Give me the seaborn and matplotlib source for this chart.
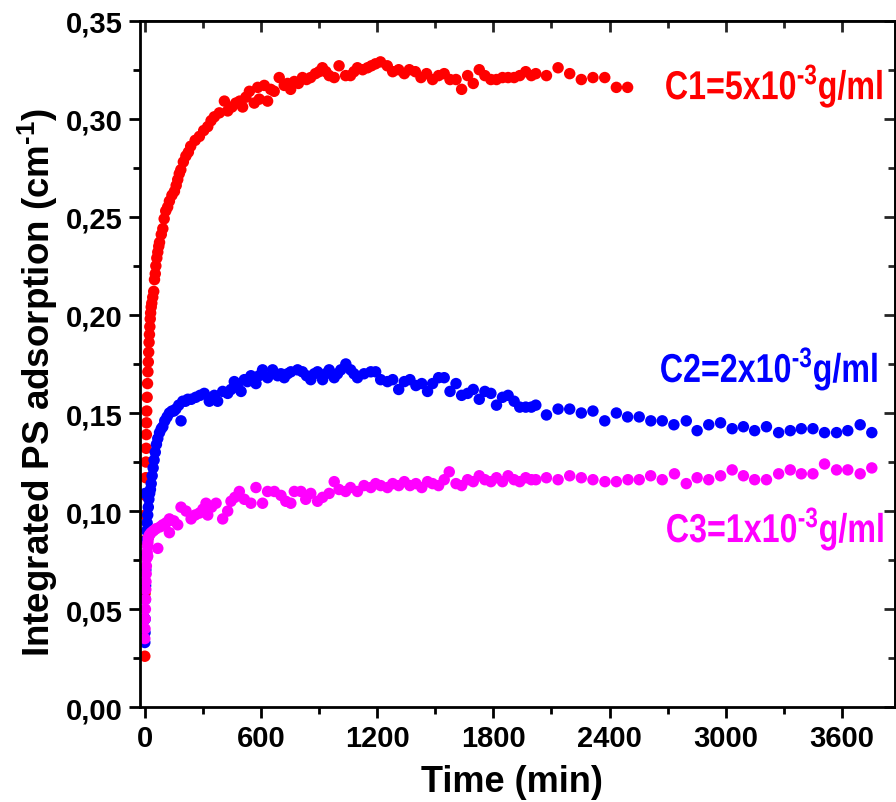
import numpy as np
import pandas as pd
import seaborn as sns
from matplotlib import pyplot as plt
from matplotlib.ticker import FuncFormatter, MultipleLocator
from matplotlib.textpath import TextPath
from matplotlib.patches import PathPatch
from matplotlib.font_manager import FontProperties
from matplotlib.transforms import Affine2D

# C1 = 5x10^-3 g/ml
c1_time = [0, 1, 2, 3, 4, 5, 6, 7, 8, 9, 10, 12, 14, 16, 18, 20, 22, 24, 26, 28, 30, 33,
           36, 41, 46, 50, 54, 57, 62, 67, 72, 76, 85, 93, 100, 108, 118, 127, 140, 153,
           162, 170, 178, 186, 199, 212, 225, 237, 260, 282, 304, 325, 342, 359, 385, 411,
           428, 450, 470, 490, 505, 522, 540, 565, 583, 591, 617, 634, 650, 668, 694, 720,
           737, 753, 772, 793, 814, 835, 856, 881, 900, 917, 935, 952, 978, 1003, 1037,
           1062, 1080, 1098, 1125, 1150, 1170, 1191, 1217, 1252,
           1280, 1311, 1340, 1366, 1397, 1426, 1455, 1486, 1517, 1546, 1576, 1607, 1636,
           1667, 1696, 1727, 1756, 1787, 1816, 1847, 1876, 1907, 1936, 1967, 1996, 2019,
           2074, 2134, 2194, 2254, 2314, 2375, 2435, 2493]
c1_abs = [0.026, 0.058, 0.085, 0.098, 0.108, 0.117, 0.125, 0.132, 0.139, 0.145, 0.151,
          0.158, 0.165, 0.171, 0.176, 0.181, 0.186, 0.190, 0.194, 0.198, 0.201, 0.204,
          0.206, 0.209, 0.212, 0.218, 0.221, 0.225, 0.229, 0.232, 0.235, 0.237, 0.241,
          0.244, 0.249, 0.253, 0.255, 0.258, 0.261, 0.263, 0.266, 0.269, 0.272, 0.274,
          0.278, 0.281, 0.283, 0.286, 0.289, 0.291, 0.294, 0.296, 0.299, 0.301, 0.303,
          0.309, 0.304, 0.306, 0.308, 0.309, 0.306, 0.311, 0.314, 0.308, 0.316, 0.310,
          0.317, 0.309, 0.315, 0.314, 0.321, 0.317, 0.318, 0.315, 0.319, 0.318, 0.321,
          0.320, 0.321, 0.323, 0.324, 0.326, 0.324, 0.322, 0.321, 0.327, 0.322, 0.322,
          0.324, 0.326, 0.325, 0.326, 0.327, 0.328, 0.329, 0.327,
          0.324, 0.325, 0.323, 0.325, 0.324, 0.321, 0.323, 0.320, 0.322, 0.323, 0.320,
          0.320, 0.315, 0.322, 0.318, 0.325, 0.322, 0.320, 0.320, 0.321, 0.321, 0.321,
          0.322, 0.324, 0.322, 0.323, 0.322, 0.326, 0.323, 0.320, 0.321, 0.321, 0.316,
          0.316]

# C2 = 2x10^-3 g/ml
c2_time = [0, 1, 2, 2, 3, 4, 5, 6, 8, 10, 12, 15, 18, 21, 25, 29, 33, 38, 43, 48, 54, 60,
           67, 76, 85, 93, 103, 115, 127, 140, 150, 160, 175, 187, 196, 210, 222, 240, 263,
           285, 307, 333, 359, 376, 402, 428, 445, 462, 480, 497, 514, 530, 548, 574, 590,
           608, 634, 660, 686, 703, 720, 737, 754, 789, 814, 835, 857, 875, 892, 918, 935,
           952, 978, 995, 1012, 1038, 1063, 1080, 1098, 1132, 1167, 1192, 1218, 1253,
           1280, 1311, 1340, 1369, 1400, 1430, 1460, 1486, 1517, 1546, 1576, 1607, 1636,
           1667, 1696, 1727, 1756, 1787, 1816, 1847, 1876, 1907, 1936, 1967, 1996, 2019,
           2074, 2134, 2194, 2254, 2314, 2375, 2435, 2493, 2553, 2613, 2672, 2732, 2796,
           2852, 2912, 2973, 3033, 3091, 3149, 3210, 3273, 3333, 3390, 3450, 3510, 3572,
           3630, 3694, 3754]
c2_abs = [0.033, 0.038, 0.045, 0.109, 0.055, 0.062, 0.070, 0.078, 0.085, 0.090, 0.094,
          0.098, 0.102, 0.106, 0.109, 0.111, 0.114, 0.118, 0.122, 0.126, 0.130, 0.134,
          0.137, 0.140, 0.142, 0.143, 0.146, 0.148, 0.150, 0.151, 0.151, 0.152, 0.154,
          0.146, 0.156, 0.156, 0.157, 0.157, 0.158, 0.159, 0.160, 0.156, 0.159, 0.156,
          0.161, 0.160, 0.162, 0.166, 0.163, 0.161, 0.167, 0.166, 0.169, 0.165, 0.169,
          0.172, 0.168, 0.172, 0.169, 0.170, 0.168, 0.170, 0.171, 0.172, 0.171, 0.169,
          0.167, 0.170, 0.171, 0.167, 0.170, 0.172, 0.168, 0.170, 0.172, 0.175, 0.172,
          0.170, 0.168, 0.170, 0.171, 0.171, 0.167, 0.166,
          0.167, 0.162, 0.166, 0.167, 0.164, 0.165, 0.161, 0.165, 0.168, 0.168, 0.161,
          0.165, 0.159, 0.160, 0.162, 0.157, 0.161, 0.160, 0.154, 0.158, 0.159, 0.156,
          0.153, 0.153, 0.153, 0.154,
          0.149, 0.152, 0.152, 0.150, 0.151, 0.146, 0.150, 0.148, 0.148, 0.146, 0.146,
          0.144, 0.146, 0.141, 0.144, 0.145, 0.142, 0.143, 0.141, 0.143, 0.140, 0.141,
          0.142, 0.142, 0.140, 0.140, 0.141, 0.144, 0.140]

# C3 = 1x10^-3 g/ml
c3_time = [0, 1, 2, 3, 4, 5, 6, 7, 8, 10, 12, 14, 15, 16, 18, 20, 25, 33, 45, 58, 67, 80,
           93, 110, 127, 127, 150, 170, 187, 213, 239, 260, 282, 300, 316, 325, 345, 368,
           402, 428, 445, 465, 488, 514, 548, 574, 608, 634, 669, 703, 728, 754, 772, 806,
           831, 857, 892, 918, 952, 978, 1003, 1037, 1062, 1098, 1132, 1167, 1192, 1218,
           1253, 1280, 1311, 1340, 1369, 1400, 1430, 1460, 1486, 1517, 1546, 1572, 1607,
           1636, 1667, 1696, 1727, 1756, 1787, 1816, 1847, 1876, 1907, 1936, 1967, 1996,
           2019, 2074, 2134, 2194, 2254, 2314, 2376, 2435, 2495, 2553, 2612, 2672, 2735,
           2796, 2852, 2912, 2973, 3033, 3091, 3149, 3210, 3273, 3333, 3390, 3450, 3510,
           3572, 3630, 3694, 3754]
c3_abs = [0.035, 0.040, 0.045, 0.050, 0.055, 0.060, 0.064, 0.068, 0.072, 0.076, 0.079,
          0.082, 0.077, 0.084, 0.086, 0.087, 0.088, 0.089, 0.090, 0.091, 0.081, 0.092,
          0.093, 0.094, 0.096, 0.089, 0.095, 0.093, 0.102, 0.100, 0.096, 0.098, 0.099,
          0.101, 0.104, 0.098, 0.102, 0.104, 0.096, 0.100, 0.105, 0.107, 0.110, 0.106,
          0.104, 0.112, 0.104, 0.110, 0.110, 0.108, 0.105, 0.104, 0.110, 0.110, 0.106,
          0.109, 0.105, 0.107, 0.109, 0.115, 0.111, 0.110, 0.112, 0.110, 0.113, 0.112,
          0.114, 0.113, 0.112, 0.114, 0.113, 0.115, 0.113, 0.114, 0.112, 0.115, 0.114,
          0.113, 0.116, 0.120, 0.114, 0.113, 0.116, 0.115, 0.118, 0.116, 0.115, 0.117,
          0.115, 0.118, 0.116, 0.115, 0.117, 0.116, 0.116, 0.117, 0.116, 0.118, 0.117,
          0.116, 0.115, 0.115, 0.116, 0.116, 0.118, 0.116, 0.119, 0.114, 0.117, 0.116,
          0.118, 0.121, 0.118, 0.116, 0.116, 0.119, 0.121, 0.119, 0.119, 0.124, 0.121,
          0.121, 0.119, 0.122]

series_names = ['C1', 'C2', 'C3']
series_labels = [r'C1=5x10$^{\text{-}3}$g/ml', r'C2=2x10$^{\text{-}3}$g/ml',
                 r'C3=1x10$^{\text{-}3}$g/ml']
series_colors = ['#ff0000', '#0000ff', '#ff00ff']
# right end and baseline of each series label, in data units
label_x = [3805, 3779, 3810]
label_y = [0.310, 0.1658, 0.0842]

df = pd.concat([
    pd.DataFrame({'time': c1_time, 'absorption': c1_abs, 'series': 'C1'}),
    pd.DataFrame({'time': c2_time, 'absorption': c2_abs, 'series': 'C2'}),
    pd.DataFrame({'time': c3_time, 'absorption': c3_abs, 'series': 'C3'}),
], ignore_index=True)

sns.set_theme(style='ticks')
plt.rcParams['font.family'] = ['Liberation Sans', 'DejaVu Sans']
plt.rcParams['font.weight'] = 'bold'
plt.rcParams['text.color'] = 'black'
plt.rcParams['axes.labelcolor'] = 'black'
plt.rcParams['mathtext.fontset'] = 'custom'
plt.rcParams['mathtext.rm'] = 'Liberation Sans:bold'
plt.rcParams['mathtext.bf'] = 'Liberation Sans:bold'
plt.rcParams['mathtext.default'] = 'bf'

fig, ax = plt.subplots(figsize=(8.96, 8.03), dpi=100)
fig.subplots_adjust(left=0.156, right=0.9985, bottom=0.118, top=0.973)

sns.scatterplot(data=df, x='time', y='absorption', hue='series',
                palette=dict(zip(series_names, series_colors)),
                s=68, linewidth=0, alpha=1, legend=False, ax=ax)

ax.set_xlim(-26, 3872)
ax.set_ylim(0, 0.35)
ax.xaxis.set_major_locator(MultipleLocator(600))
ax.xaxis.set_minor_locator(MultipleLocator(300))
ax.yaxis.set_major_locator(MultipleLocator(0.05))
ax.yaxis.set_minor_locator(MultipleLocator(0.025))
ax.yaxis.set_major_formatter(FuncFormatter(lambda v, p: f'{v:.2f}'.replace('.', ',')))

for sp in ax.spines.values():
    sp.set_visible(True)
    sp.set_linewidth(2)
    sp.set_color('black')

ax.tick_params(which='major', direction='out', length=8, width=2, labelsize=21,
               color='black', labelcolor='black', pad=4)
ax.tick_params(which='minor', direction='out', length=5, width=2, color='black')
for lab in ax.get_xticklabels() + ax.get_yticklabels():
    lab.set_fontweight('bold')

# inward ticks on top and right
top = ax.secondary_xaxis('top')
top.xaxis.set_major_locator(MultipleLocator(600))
top.xaxis.set_minor_locator(MultipleLocator(300))
top.tick_params(which='major', direction='in', length=8, width=2, labeltop=False)
top.tick_params(which='minor', direction='in', length=5, width=2)
right = ax.secondary_yaxis('right')
right.yaxis.set_major_locator(MultipleLocator(0.05))
right.yaxis.set_minor_locator(MultipleLocator(0.025))
right.tick_params(which='major', direction='in', length=8, width=2, labelright=False)
right.tick_params(which='minor', direction='in', length=5, width=2)

ax.set_xlabel('Time (min)', fontsize=26, fontweight='bold', color='black')
ax.set_ylabel(r'Integrated PS adsorption (cm$^{\text{-}1}$)', fontsize=26.5,
              fontweight='bold', color='black')
ax.xaxis.set_label_coords(0.493, -0.083)
ax.yaxis.set_label_coords(-0.106, 0.475)

# condensed bold labels, drawn as paths so they can be squeezed horizontally
fp = FontProperties(family='Liberation Sans', weight='bold')
k = fig.dpi / 72
for text, color, lx, ly in zip(series_labels, series_colors, label_x, label_y):
    path = TextPath((0, 0), text, size=29, prop=fp)
    ext = path.get_extents()
    px, py = ax.transData.transform((lx, ly))
    tr = Affine2D().translate(-ext.x1, 0).scale(0.80 * k, k).translate(px, py)
    ax.add_artist(PathPatch(path, transform=tr, facecolor=color, edgecolor='none',
                            clip_on=False))

fig.savefig('out.png', dpi=100)
